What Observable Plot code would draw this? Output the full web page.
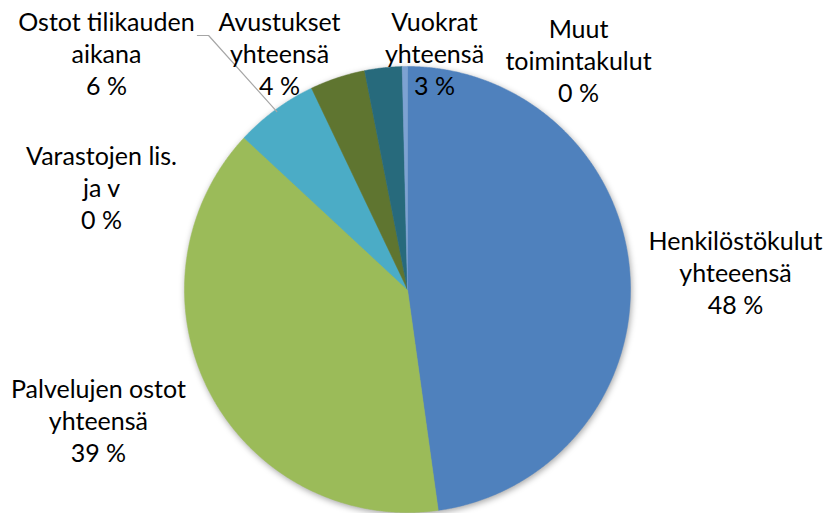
<!DOCTYPE html>
<html><head><meta charset="utf-8">
<script src="https://cdn.jsdelivr.net/npm/d3@7"></script>
<script src="https://cdn.jsdelivr.net/npm/@observablehq/plot@0.6"></script>
<style>body{margin:0;background:#fff;} #chart{width:827px;height:513px;}</style>
</head><body><div id="chart"></div>
<script>
// ---- data ----
const categories = [
  "Henkilöstökulut\nyhteeensä",
  "Palvelujen ostot\nyhteensä",
  "Varastojen lis.\nja v",
  "Ostot tilikauden\naikana",
  "Avustukset\nyhteensä",
  "Vuokrat\nyhteensä",
  "Muut\ntoimintakulut"
];
const shares = [47.8, 39.1, 0.02, 6.0, 4.0, 2.7, 0.38];
const colors = ["#4F81BD", "#9BBB59", "#74B48F", "#4BACC6", "#5F7530", "#276A7C", "#7DA2D2"];

// ---- layout (in pie-radius units, centre = 0,0) ----
const labelAnchors = [
  [1.471, 0.081], [-1.386, -0.583], [-1.372, 0.462], [-1.350, 1.060],
  [-0.574, 1.060], [0.121, 1.060], [0.767, 1.030]
];
const leaderStart = [[-0.942, 1.139], [-0.892, 1.139]]; // leader line for slice 3

const pie = d3.pie().sort(null).value(d => d)(shares);
const slicePts = [];
pie.forEach((p, i) => {
  const n = Math.max(2, Math.ceil((p.endAngle - p.startAngle) / 0.005));
  slicePts.push({cat: categories[i], x: 0, y: 0});
  for (let k = 0; k <= n; k++) {
    const a = p.startAngle + (p.endAngle - p.startAngle) * k / n;
    slicePts.push({cat: categories[i], x: Math.sin(a), y: Math.cos(a)});
  }
  slicePts.push({cat: categories[i], x: 0, y: 0});
});
const labels = categories.map((c, i) => ({
  text: c + "\n" + Math.round(shares[i]) + " %",
  x: labelAnchors[i][0], y: labelAnchors[i][1]
}));
const mid = (pie[3].startAngle + pie[3].endAngle) / 2;
const leader = [
  {x: leaderStart[0][0], y: leaderStart[0][1]},
  {x: leaderStart[1][0], y: leaderStart[1][1]},
  {x: Math.sin(mid) * 0.99, y: Math.cos(mid) * 0.99}
];

const cx = 407, cy = 289, r = 223, W = 827, H = 513;
const plot = Plot.plot({
  width: W, height: H,
  marginLeft: cx - r, marginRight: W - (cx + r),
  marginTop: cy - r, marginBottom: H - (cy + r),
  x: {domain: [-1, 1], axis: null},
  y: {domain: [-1, 1], axis: null},
  color: {domain: categories, range: colors},
  style: {fontFamily: "Lato, sans-serif", background: "#fff", overflow: "visible"},
  marks: [
    Plot.line(slicePts, {x: "x", y: "y", z: "cat", fill: "cat", stroke: "cat", strokeWidth: 0.5}),
    Plot.line(leader, {x: "x", y: "y", stroke: "#a6a6a6", strokeWidth: 1.2}),
    Plot.text(labels, {x: "x", y: "y", text: "text", fontSize: 25, lineHeight: 1.28, textAnchor: "middle", lineAnchor: "middle", fill: "#000", fontFamily: "Lato"})
  ]
});
const g = plot.querySelector('g[aria-label="line"]');
if (g) g.style.filter = "drop-shadow(1px 2px 3px rgba(0,0,0,0.35))";
document.getElementById("chart").appendChild(plot);
</script>
</body></html>
